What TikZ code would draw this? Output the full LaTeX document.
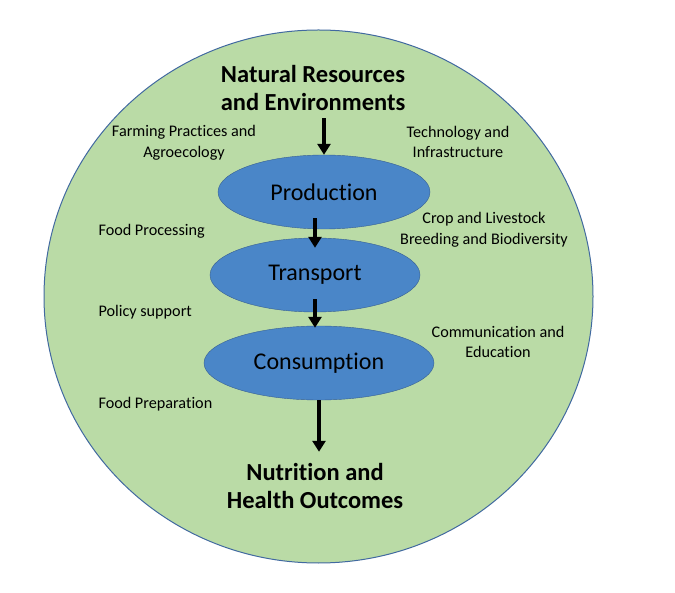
\documentclass[tikz,border=0pt]{standalone}
\usepackage{fontspec}
\setmainfont{Carlito}[Ligatures={NoCommon}]
\usepackage{tikz}
\usetikzlibrary{shapes.geometric,arrows.meta}

\definecolor{ringfill}{RGB}{186,219,166}
\definecolor{ringline}{RGB}{65,105,160}
\definecolor{stagefill}{RGB}{74,134,200}
\definecolor{stageline}{RGB}{55,95,145}

\tikzset{
  stage/.style={ellipse,draw=stageline,fill=stagefill,inner sep=0pt,
    minimum height=74pt,font=\fontsize{24}{28}\selectfont},
  headline/.style={align=center,font=\fontsize{24.5}{28}\selectfont\bfseries},
  factor/.style={align=center,font=\fontsize{16.2}{20.5}\selectfont},
  flow/.style={line width=3.2pt,-{Triangle[width=13pt,length=11pt]}}
}

\begin{document}
\begin{tikzpicture}[x=1pt,y=-1pt]
\useasboundingbox (0,0) rectangle (675,593);
\draw[fill=ringfill,draw=ringline,line width=1pt] (318.5,296.5) ellipse [x radius=274.5pt, y radius=266.5pt];

\node[headline] (nat) at (313,88) {Natural Resources\\and Environments};
\node[stage,minimum width=212pt] (prod) at (324,192) {Production};
\node[stage,minimum width=210pt] (trans) at (315,275) {Transport};
\node[stage,minimum width=230pt] (cons) at (319,363) {Consumption};
\node[headline] (nut) at (315,486) {Nutrition and\\Health Outcomes};

\draw[flow] ([yshift=-4pt]nat.south -| prod.north) -- (prod.north);
\draw[flow] ([yshift=11pt]prod.south -| trans.north) -- ([yshift=-10pt]trans.north);
\draw[flow] ([yshift=13pt]trans.south) -- ([yshift=-2pt]cons.north -| trans.south);
\draw[flow] (cons.south) -- ([yshift=8pt]nut.north -| cons.south);

\node[factor] (farm) at (184,143) {Farming Practices and\\Agroecology};
\node[factor] (tech) at (458,142) {Technology and\\Infrastructure};
\node[factor,anchor=west] (proc) at (95,231) {Food Processing};
\node[factor] (crop) at (484,230) {Crop and Livestock\\Breeding and Biodiversity};
\node[factor,anchor=west] (pol) at (95,312) {Policy support};
\node[factor] (comm) at (498,342) {Communication and\\Education};
\node[factor,anchor=west] (prep) at (95,404) {Food Preparation};
\end{tikzpicture}
\end{document}
